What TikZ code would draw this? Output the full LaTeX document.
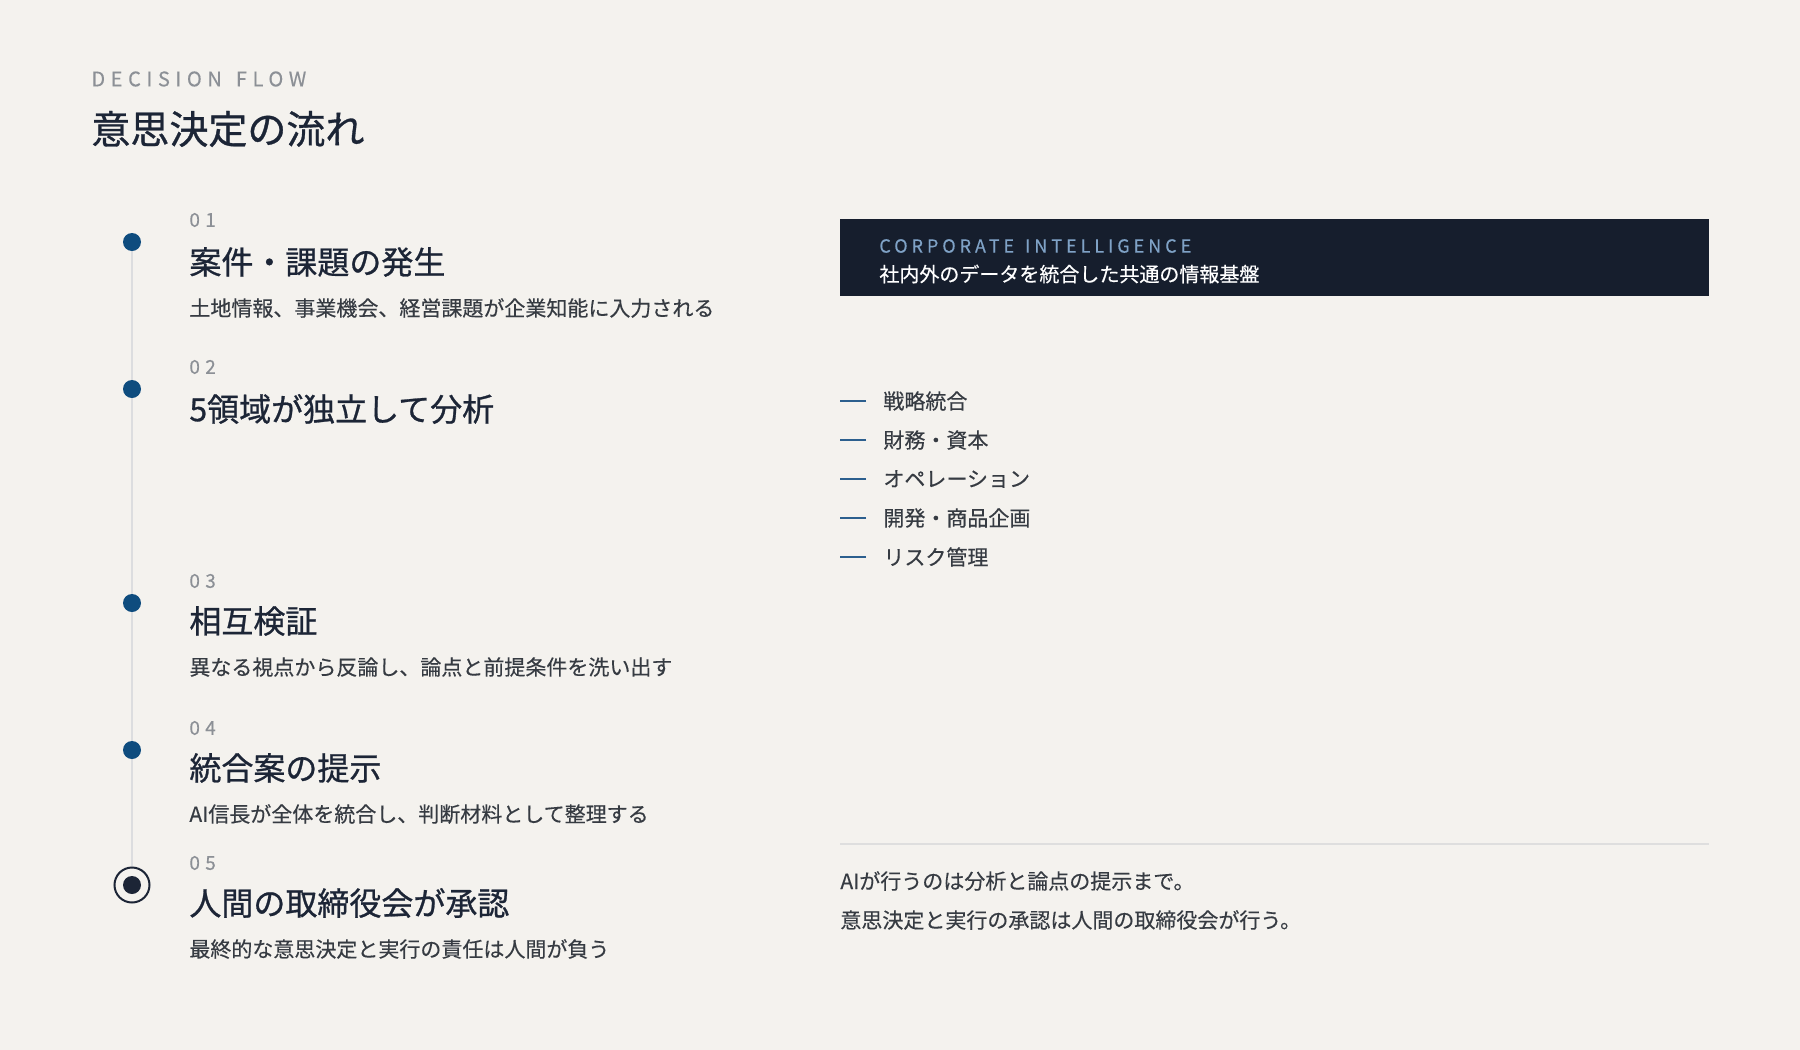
\documentclass[tikz,border=0pt]{standalone}
\usepackage{fontspec}
\setmainfont{Noto Sans CJK JP}[FakeBold=0.35]
\newfontfamily\trackfont[LetterSpace=28,FakeBold=0.3]{Noto Sans CJK JP}
\newfontfamily\citrack[LetterSpace=22,FakeBold=0.3]{Noto Sans CJK JP}
\newfontfamily\headfont[FakeBold=0.8]{Noto Sans CJK JP}
\definecolor{bgcol}{HTML}{F4F2EE}
\definecolor{navy}{HTML}{1C2536}
\definecolor{desctxt}{HTML}{363B42}
\definecolor{numgray}{HTML}{8C9096}
\definecolor{dotblue}{HTML}{0E4C7E}
\definecolor{railgray}{HTML}{DCDDDF}
\definecolor{panelcol}{HTML}{161E2D}
\definecolor{cilabel}{HTML}{7FA2C6}
\definecolor{dashblue}{HTML}{2C5F8E}
\definecolor{rulegray}{HTML}{DEDEDE}
\pgfdeclarelayer{back}
\pgfdeclarelayer{rail}
\pgfsetlayers{back,rail,main}

\begin{document}
\begin{tikzpicture}[x=0.5pt,y=-0.5pt,
  dot/.style={circle,fill=dotblue,inner sep=0pt,minimum size=9pt},
  num/.style={anchor=west,inner sep=0pt,text=numgray,font=\trackfont\fontsize{9.5}{11}\selectfont},
  steptitle/.style={anchor=west,inner sep=0pt,text=navy,font=\headfont\fontsize{16}{20}\selectfont},
  stepdesc/.style={anchor=west,inner sep=0pt,text=desctxt,font=\fontsize{10.5}{13}\selectfont},
  item/.style={anchor=west,inner sep=0pt,text=desctxt,font=\fontsize{10.5}{13}\selectfont},
  itemdash/.style={draw=dashblue,line width=0.7pt}]
\begin{pgfonlayer}{back}
  \fill[bgcol] (0,0) rectangle (1800,1050);
\end{pgfonlayer}
\useasboundingbox (0,0) rectangle (1800,1050);
%heading
  \node[anchor=west,inner sep=0pt,text=numgray,font=\trackfont\fontsize{10}{12}\selectfont] (kicker) at (91,79) {DECISION \hspace{2pt}FLOW};
  \node[anchor=west,inner sep=0pt,text=navy,font=\headfont\fontsize{19.5}{24}\selectfont] (head) at (91,129) {意思決定の流れ};
%1
  \node[dot] (d1) at (132,242) {};
  \node[num] (n1) at (189,220) {01};
  \node[steptitle] (t1) at (189,262) {案件・課題の発生};
  \node[stepdesc] (s1) at (189,308) {土地情報、事業機会、経営課題が企業知能に入力される};
%2
  \node[dot] (d2) at (132,389) {};
  \node[num] (n2) at (189,367) {02};
  \node[steptitle] (t2) at (189,409) {5領域が独立して分析};
%3
  \node[dot] (d3) at (132,603) {};
  \node[num] (n3) at (189,581) {03};
  \node[steptitle] (t3) at (189,621) {相互検証};
  \node[stepdesc] (s3) at (189,667) {異なる視点から反論し、論点と前提条件を洗い出す};
%4
  \node[dot] (d4) at (132,750) {};
  \node[num] (n4) at (189,728) {04};
  \node[steptitle] (t4) at (189,768) {統合案の提示};
  \node[stepdesc] (s4) at (189,814) {AI信長が全体を統合し、判断材料として整理する};
%5
  \node[circle,draw=navy,line width=1pt,fill=bgcol,inner sep=0pt,minimum size=17.5pt] (d5) at (132,885) {};
  \node[circle,fill=navy,inner sep=0pt,minimum size=9pt] (d5in) at (d5) {};
  \node[num] (n5) at (189,863) {05};
  \node[steptitle] (t5) at (189,903) {人間の取締役会が承認};
  \node[stepdesc] (s5) at (189,949) {最終的な意思決定と実行の責任は人間が負う};
%rail
\begin{pgfonlayer}{rail}
  \draw[railgray,line width=1pt] (d1.center) -- (d5.center);
\end{pgfonlayer}
%panel
  \node[fill=panelcol,anchor=north west,inner sep=0pt,minimum width=434.5pt,minimum height=38.5pt] (ci) at (840,219) {};
  \node[anchor=west,inner sep=0pt,text=cilabel,font=\citrack\fontsize{9}{11}\selectfont] (cihead) at (879,246) {CORPORATE \hspace{1.5pt}INTELLIGENCE};
  \node[anchor=west,inner sep=0pt,text=white,font=\fontsize{10}{12}\selectfont] (citext) at (879,274) {社内外のデータを統合した共通の情報基盤};
%domains
  \node[item] (i1) at (883,401) {戦略統合};
  \node[item] (i2) at (883,440) {財務・資本};
  \node[item] (i3) at (883,479) {オペレーション};
  \node[item] (i4) at (883,518) {開発・商品企画};
  \node[item] (i5) at (883,557) {リスク管理};
  \draw[itemdash] ([xshift=-8.5pt]i1.west) -- ([xshift=-21.5pt]i1.west);
  \draw[itemdash] ([xshift=-8.5pt]i2.west) -- ([xshift=-21.5pt]i2.west);
  \draw[itemdash] ([xshift=-8.5pt]i3.west) -- ([xshift=-21.5pt]i3.west);
  \draw[itemdash] ([xshift=-8.5pt]i4.west) -- ([xshift=-21.5pt]i4.west);
  \draw[itemdash] ([xshift=-8.5pt]i5.west) -- ([xshift=-21.5pt]i5.west);
%note
  \coordinate (ruleL) at (840,844);
  \coordinate (ruleR) at (1709,844);
  \draw[rulegray,line width=0.75pt] (ruleL) -- (ruleR);
  \node[item] (f1) at (840,881) {AIが行うのは分析と論点の提示まで。};
  \node[item] (f2) at (840,920) {意思決定と実行の承認は人間の取締役会が行う。};
\end{tikzpicture}
\end{document}
